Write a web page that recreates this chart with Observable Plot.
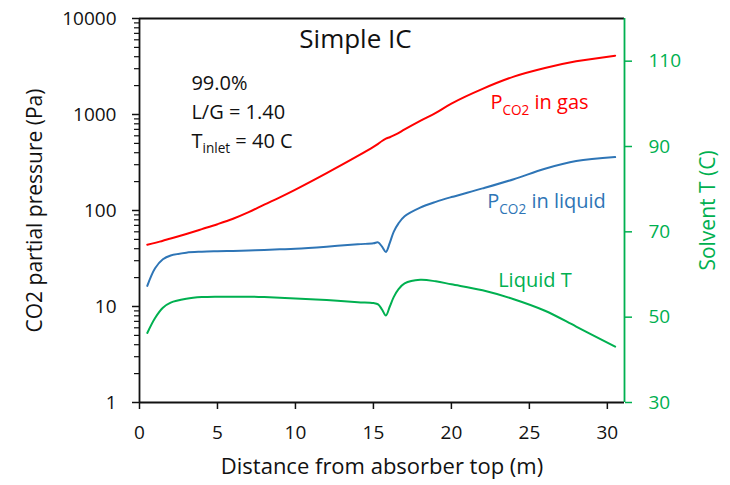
<!DOCTYPE html>
<html><head><meta charset="utf-8">
<script src="https://cdn.jsdelivr.net/npm/d3@7"></script>
<script src="https://cdn.jsdelivr.net/npm/@observablehq/plot@0.6"></script>
<style>body{margin:0;background:#fff} #chart{width:730px;height:485px}</style>
</head><body><div id="chart"></div>
<script>
// Distance from absorber top (m)
const dist  = [0.5, 1, 1.5, 2, 3, 4, 5, 6, 7, 8, 9, 10, 12, 14, 15, 15.3, 15.55, 15.8, 16.05, 16.3, 16.6, 17, 18, 19, 20, 22, 24, 26, 28, 30.5];
// P_CO2 in gas (Pa)
const gasP  = [44, 46, 48.5, 51, 57, 64, 72, 82, 96, 115, 137, 165, 245, 370, 460, 495, 530, 560, 580, 605, 640, 700, 860, 1040, 1300, 1850, 2480, 3050, 3580, 4100];
// P_CO2 in liquid (Pa)
const liqP  = [16.4, 25, 31, 34, 36.4, 37.2, 37.6, 37.9, 38.3, 38.8, 39.4, 40, 42, 44.5, 45.5, 46.5, 42, 37, 46, 60, 73, 87, 107, 123, 138, 170, 212, 272, 327, 360];
// Liquid T (C)
const liqT  = [46.3, 49.8, 52.2, 53.4, 54.3, 54.7, 54.8, 54.8, 54.8, 54.7, 54.55, 54.4, 54.0, 53.5, 53.3, 53.0, 51.8, 50.4, 52.5, 54.7, 56.5, 57.9, 58.75, 58.4, 57.7, 56.3, 54.2, 51.5, 47.8, 43.1];

const xTicks = [0, 5, 10, 15, 20, 25, 30];
const yTicks = [1, 10, 100, 1000, 10000];
const tTicks = [30, 50, 70, 90, 110];

const tDomain = [30, 120];
const yDomain = [1, 10000];
const decades = Math.log10(yDomain[1] / yDomain[0]);
// map the right-axis temperature onto the shared log y scale
const tToY = t => yDomain[0] * Math.pow(10, (t - tDomain[0]) * decades / (tDomain[1] - tDomain[0]));

const minorTicks = [];
for (let e = 0; e < 4; e++) for (let m = 2; m <= 9; m++) minorTicks.push(m * Math.pow(10, e));

const rows = dist.map((d, i) => ({dist: d, gas: gasP[i], liq: liqP[i], temp: liqT[i]}));

const RED = "#ff0000", BLUE = "#2e75b6", GREEN = "#00b050";
const FONT = "Open Sans";

const chart = Plot.plot({
  width: 730, height: 485,
  marginLeft: 139, marginRight: 106, marginTop: 18, marginBottom: 83,
  style: {fontFamily: FONT, background: "#fff", color: "#111"},
  x: {domain: [0, 31.1]},
  y: {type: "log", domain: yDomain},
  marks: [
    Plot.axisX(xTicks, {tickSize: 7, tickPadding: 16, fontSize: 19, label: null, strokeWidth: 1.5, stroke: "#111", fill: "#111"}),
    Plot.axisY(yTicks, {anchor: "left", tickSize: 7, tickPadding: 16, fontSize: 19, label: null, tickFormat: d => String(d), strokeWidth: 1.5, stroke: "#111", fill: "#111"}),
    Plot.axisY(minorTicks, {anchor: "left", tickSize: 5, tickFormat: () => "", label: null, strokeWidth: 1.2, stroke: "#111"}),
    Plot.axisY(tTicks.map(tToY), {anchor: "right", tickSize: 7, tickFormat: () => "", label: null, strokeWidth: 1.5, stroke: GREEN}),
    Plot.text(tTicks, {y: d => tToY(d), text: d => String(d), frameAnchor: "right", dx: 24, textAnchor: "start", fontSize: 19, fill: GREEN}),
    Plot.ruleX([0], {stroke: "#111", strokeWidth: 1.8}),
    Plot.ruleY([yDomain[0]], {stroke: "#111", strokeWidth: 1.8}),
    Plot.ruleY([yDomain[1]], {stroke: "#111", strokeWidth: 1.8}),
    Plot.ruleX([31.1], {stroke: GREEN, strokeWidth: 1.8}),
    Plot.line(rows, {x: "dist", y: "gas", stroke: RED, strokeWidth: 2, curve: "catmull-rom"}),
    Plot.line(rows, {x: "dist", y: "liq", stroke: BLUE, strokeWidth: 2, curve: "catmull-rom"}),
    Plot.line(rows, {x: "dist", y: d => tToY(d.temp), stroke: GREEN, strokeWidth: 2, curve: "catmull-rom"}),
    // annotations
    Plot.text(["Simple IC"], {x: 13.85, y: 6000, text: d => d, fontSize: 26, textAnchor: "middle", fill: "#111"}),
    Plot.text(["99.0%"], {x: 3.33, y: 2090, text: d => d, fontSize: 20, textAnchor: "start", fill: "#111"}),
    Plot.text(["L/G = 1.40"], {x: 3.33, y: 1040, text: d => d, fontSize: 20, textAnchor: "start", fill: "#111"}),
    Plot.text(["T|inlet| = 40 C"], {x: 3.33, y: 527, text: d => d, fontSize: 20, textAnchor: "start", fill: "#111"}),
    Plot.text(["P|CO2| in gas"], {x: 22.5, y: 1325, text: d => d, fontSize: 20, textAnchor: "start", fill: RED}),
    Plot.text(["P|CO2| in liquid"], {x: 22.3, y: 123, text: d => d, fontSize: 20, textAnchor: "start", fill: BLUE}),
    Plot.text(["Liquid T"], {x: 23.0, y: 18.7, text: d => d, fontSize: 20, textAnchor: "start", fill: GREEN}),
    // axis titles
    Plot.text(["Distance from absorber top (m)"], {frameAnchor: "bottom", dy: 71, text: d => d, fontSize: 22, textAnchor: "middle", fill: "#111"}),
    Plot.text(["CO2 partial pressure (Pa)"], {frameAnchor: "left", dx: -104, text: d => d, fontSize: 21, rotate: -90, textAnchor: "middle", fill: "#111"}),
    Plot.text(["Solvent T (C)"], {frameAnchor: "right", dx: 84, text: d => d, fontSize: 21, rotate: -90, textAnchor: "middle", fill: GREEN})
  ]
});

document.getElementById("chart").appendChild(chart);

// subscripts: parts between "|" are set as subscript
d3.select(chart).selectAll("text").each(function() {
  const s = this.textContent;
  if (!s.includes("|")) return;
  const fs = parseFloat(getComputedStyle(this).fontSize) || 20;
  const parts = s.split("|");
  const el = d3.select(this);
  el.text("").style("white-space", "pre");
  parts.forEach((p, i) => {
    const ts = el.append("tspan").text(p);
    if (i % 2 === 1) ts.attr("font-size", fs * 0.68).attr("dy", fs * 0.28);
    else if (i > 0) ts.attr("dy", -fs * 0.28);
  });
});
</script></body></html>
